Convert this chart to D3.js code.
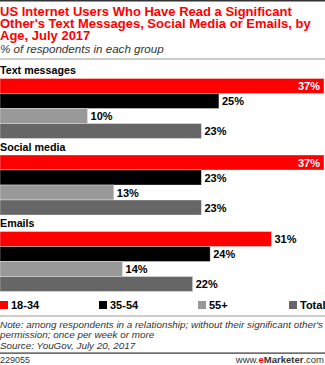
<!DOCTYPE html>
<html><head><meta charset="utf-8">
<script src="https://cdn.jsdelivr.net/npm/d3@7"></script>
<style>
html,body{margin:0;padding:0;background:#fff;}
svg{display:block;font-family:"Liberation Sans",Arial,sans-serif;}
</style></head>
<body>
<script>
const titleLines = ["US Internet Users Who Have Read a Significant","Other's Text Messages, Social Media or Emails, by","Age, July 2017"];
const subtitle = "% of respondents in each group";
const categories = ["Text messages","Social media","Emails"];
const seriesNames = ["18-34","35-54","55+","Total"];
const seriesColors = ["#ff0000","#000000","#999999","#666666"];
const v1834 = [37,37,31];
const v3554 = [25,23,24];
const v55 = [10,13,14];
const vTotal = [23,23,22];
const noteLines = ["Note: among respondents in a relationship; without their significant other's","permission; once per week or more","Source: YouGov, July 20, 2017"];
const chartId = "229055";

const W=325,H=365;
const svg=d3.select("body").append("svg").attr("width",W).attr("height",H);
const series=[v1834,v3554,v55,vTotal];

svg.append("rect").attr("x",0).attr("y",0).attr("width",W).attr("height",1.5).attr("fill","#333");
svg.append("g").selectAll("text").data(titleLines).join("text")
  .attr("x",0).attr("y",(d,i)=>15.5+i*12)
  .attr("fill","#ff0000").attr("font-weight","bold").attr("font-size",13)
  .text(d=>d);
svg.append("text").attr("x",0).attr("y",52.5).attr("font-style","italic").attr("font-size",11.6).attr("fill","#333").text(subtitle);
svg.append("rect").attr("x",0).attr("y",58.5).attr("width",W).attr("height",1).attr("fill","#999");

const maxV=d3.max(series.flat());
const x=d3.scaleLinear().domain([0,maxV]).range([0,324]);
const yG=d3.scaleBand().domain(categories).range([62,291.5]).padding(0);
const yS=d3.scaleBand().domain(seriesNames).range([16.5,76.5]).padding(0);

const g=svg.append("g").selectAll("g").data(categories).join("g")
  .attr("transform",d=>`translate(0,${yG(d)})`);
g.append("text").attr("x",0).attr("y",12).attr("font-weight","bold").attr("font-size",10.7).attr("fill","#000").text(d=>d);
g.each(function(cat,ci){
  const gg=d3.select(this);
  const rows=seriesNames.map((s,si)=>({s,si,v:series[si][ci]}));
  gg.selectAll("rect").data(rows).join("rect")
    .attr("x",0).attr("y",d=>yS(d.s)).attr("width",d=>x(d.v)).attr("height",yS.bandwidth())
    .attr("fill",d=>seriesColors[d.si]).attr("stroke","#fff").attr("stroke-opacity",0.5).attr("stroke-width",0.7);
  gg.selectAll("text.v").data(rows).join("text").attr("class","v")
    .attr("x",d=>d.v===maxV?x(d.v)-4:x(d.v)+3)
    .attr("y",d=>yS(d.s)+yS.bandwidth()/2+4)
    .attr("text-anchor",d=>d.v===maxV?"end":"start")
    .attr("fill",d=>d.v===maxV?"#fff":"#000")
    .attr("font-weight","bold").attr("font-size",11)
    .text(d=>d.v+"%");
});

const lx=[0,99,198,289];
const lg=svg.append("g").selectAll("g").data(seriesNames).join("g")
  .attr("transform",(d,i)=>`translate(${lx[i]},301)`);
lg.append("rect").attr("width",8).attr("height",8).attr("fill",(d,i)=>seriesColors[i]);
lg.append("text").attr("x",11).attr("y",8).attr("font-weight","bold").attr("font-size",11).text(d=>d);

svg.append("rect").attr("x",0).attr("y",315.5).attr("width",W).attr("height",1).attr("fill","#999");
svg.append("g").selectAll("text").data(noteLines).join("text")
  .attr("x",0).attr("y",(d,i)=>327.5+i*10.5).attr("font-style","italic").attr("font-size",9.9).attr("fill","#333").text(d=>d);
svg.append("rect").attr("x",0).attr("y",352.5).attr("width",W).attr("height",1.2).attr("fill","#333");
svg.append("text").attr("x",0).attr("y",363).attr("font-size",9).attr("fill","#333").text(chartId);
const src=svg.append("text").attr("x",324).attr("y",363).attr("text-anchor","end").attr("font-size",9.5).attr("fill","#333");
src.append("tspan").text("www.");
src.append("tspan").attr("fill","#ff0000").attr("font-weight","bold").text("e");
src.append("tspan").attr("font-weight","bold").text("Marketer");
src.append("tspan").text(".com");
</script>
</body></html>
